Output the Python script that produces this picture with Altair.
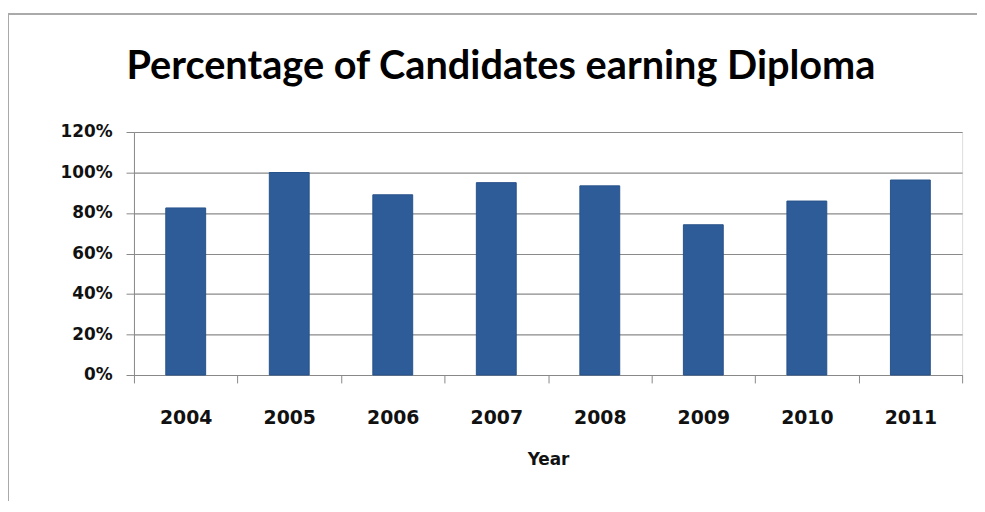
import altair as alt
import pandas as pd

years = ["2004", "2005", "2006", "2007", "2008", "2009", "2010", "2011"]
percent = [0.825, 1.00, 0.89, 0.95, 0.934, 0.742, 0.859, 0.963]
y_ticks = [0, 0.2, 0.4, 0.6, 0.8, 1.0, 1.2]
title_text = "Percentage of Candidates earning Diploma"

df = pd.DataFrame({"Year": years, "Pct": percent})

bars = alt.Chart(df).mark_bar(color="#2E5C98", stroke="#27528A", strokeWidth=1,
                              width=alt.RelativeBandSize(0.385)).encode(
    x=alt.X("Year:N", sort=years,
            scale=alt.Scale(paddingInner=0, paddingOuter=0),
            axis=alt.Axis(title="Year", labelAngle=0, labelFont="DejaVu Sans", labelFontSize=19,
                          labelFontWeight="bold", labelColor="#111", labelPadding=26, tickSize=8,
                          tickColor="#888", tickBand="extent", domainColor="#888",
                          titleFont="DejaVu Sans", titleFontSize=17, titleFontWeight="bold",
                          titleColor="#111", titlePadding=24, grid=False)),
    y=alt.Y("Pct:Q", scale=alt.Scale(domain=[0, 1.2], nice=False),
            axis=alt.Axis(format=".0%", values=y_ticks, title=None, labelFont="DejaVu Sans",
                          labelFontSize=17, labelFontWeight="bold", labelColor="#111",
                          labelPadding=14, tickSize=8, tickColor="#888", domainColor="#888",
                          gridColor="#8a8a8a", gridWidth=1.2)),
)

frame = alt.Chart(df).mark_rect(fill=None, stroke="#aaaaaa", strokeWidth=1.5).encode(
    x=alt.value(-127), x2=alt.value(950), y=alt.value(-119), y2=alt.value(450)
)

title = alt.Chart(pd.DataFrame({"t": [title_text]})).mark_text(
    font="Lato", fontSize=40, fontWeight="bold", color="#000", align="center",
    baseline="alphabetic"
).encode(text="t:N", x=alt.value(370), y=alt.value(-53))

chart = alt.layer(frame, bars, title).properties(
    width=835, height=245,
    autosize=alt.AutoSizeParams(type="none"),
    padding={"left": 127, "top": 123, "right": 15, "bottom": 125},
).configure_view(stroke=None).configure(background="white")

chart.save("out.html", embed_options={"renderer": "svg", "actions": False})
